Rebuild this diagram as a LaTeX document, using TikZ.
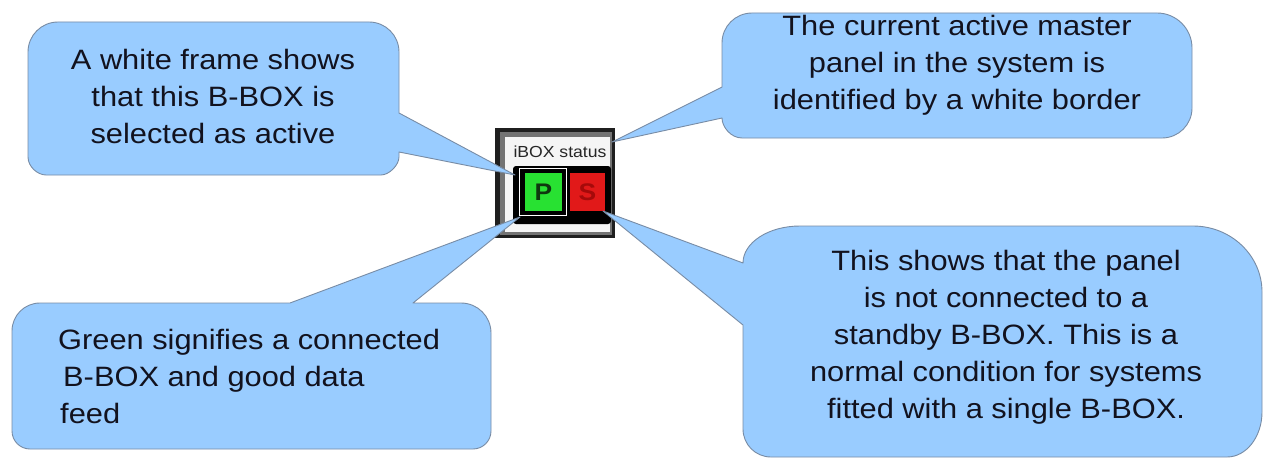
\documentclass[tikz,border=0pt]{standalone}
\usepackage{fontspec}
\setmainfont{Liberation Sans}[FakeStretch=1.1]
\definecolor{cfill}{RGB}{153,204,255}
\definecolor{cline}{RGB}{120,140,165}
\definecolor{ctext}{RGB}{18,18,30}
\definecolor{pgreen}{RGB}{40,225,50}
\definecolor{pdark}{RGB}{15,55,15}
\definecolor{sred}{RGB}{225,25,25}
\definecolor{sdark}{RGB}{165,10,10}
\definecolor{panelwhite}{RGB}{245,245,245}
\tikzset{
  callout/.style={fill=cfill, draw=cline, line width=0.9pt, line join=round},
  ctxt/.style={font=\fontsize{28}{37}\selectfont, text=ctext, inner sep=0pt},
  btn/.style={inner sep=0pt, minimum height=38pt, font=\fontsize{24}{24}\selectfont\bfseries},
}
\begin{document}
\begin{tikzpicture}[x=1pt,y=-1pt]
\fill[white] (0,0) rectangle (1266,460);
\useasboundingbox (0,0) rectangle (1266,460);
% ---- iBOX status panel
\fill[black!88] (495,128) rectangle (615,238);
\fill[black!55] (500,132) rectangle (612,235);
\fill[panelwhite] (505,137) rectangle (610,232);
\node[font=\fontsize{16}{16}\selectfont, text=black!85, inner sep=0pt] (title) at (560,152) {iBOX status};
\fill[black, rounded corners=3pt] (513,166) rectangle (611,224);
\draw[white, line width=1.6pt] (519.5,168.5) rectangle (566.5,215.5);
\node[btn, fill=pgreen, text=pdark, minimum width=37pt] (P) at (543.5,192) {P};
\node[btn, fill=sred, text=sdark, minimum width=35pt] (S) at (587.5,192) {S};
% ---- tips
\coordinate (tipA) at (515,175);
\coordinate (tipB) at (612,142);
\coordinate (tipC) at (520,217);
\coordinate (tipD) at (603,211);
% ---- callouts
\path[callout] (58,22) -- (369,22) .. controls (385.6,22) and (399,35.4) .. (399,52)
  -- (399,113) -- (tipA) -- (399,152) -- (399,157)
  .. controls (399,165.1) and (389.1,175) .. (381,175) -- (46,175)
  .. controls (37.9,175) and (28,166.9) .. (28,157) -- (28,52)
  .. controls (28,35.4) and (41.4,22) .. (58,22) -- cycle;
\path[callout] (752,13) -- (1157,13) .. controls (1176.3,13) and (1192,28.7) .. (1192,48)
  -- (1192,108) .. controls (1192,124.6) and (1178.6,138) .. (1162,138) -- (742,138)
  .. controls (731,138) and (722,127) .. (722,118) -- (tipB) -- (722,87) -- (722,43)
  .. controls (722,26.4) and (735.4,13) .. (752,13) -- cycle;
\path[callout] (40,303) -- (290,303) -- (tipC) -- (413,303) -- (461,303)
  .. controls (477.6,303) and (491,316.4) .. (491,333) -- (491,431)
  .. controls (491,440.9) and (482.9,449) .. (473,449) -- (30,449)
  .. controls (20.1,449) and (12,440.9) .. (12,431) -- (12,331)
  .. controls (12,315.5) and (24.5,303) .. (40,303) -- cycle;
\path[callout] (800,226) -- (1193,226) .. controls (1231.1,226) and (1262,255.6) .. (1262,292)
  -- (1262,412) .. controls (1262,436.8) and (1246.3,457) .. (1227,457) -- (771,457)
  .. controls (755.5,457) and (743,444.5) .. (743,429) -- (743,325) -- (tipD) -- (743,263)
  .. controls (743,242.6) and (768.5,226) .. (800,226) -- cycle;
% ---- texts (base anchor = baseline of the last line)
\node[ctxt, align=center, anchor=base] (tl) at (213,143) {A white frame shows\\that this B-BOX is\\selected as active};
\node[ctxt, align=center, anchor=base] (tr) at (957,110) {The current active master\\panel in the system is\\identified by a white border};
\node[ctxt, align=left, anchor=base west] (bl) at (58,423) {Green signifies a connected\\\hspace*{5pt}B-BOX and good data\\\hspace*{2pt}feed};
\node[ctxt, align=center, anchor=base] (br) at (1006,418) {This shows that the panel\\is not connected to a\\standby B-BOX. This is a\\normal condition for systems\\fitted with a single B-BOX.};
\end{tikzpicture}
\end{document}
